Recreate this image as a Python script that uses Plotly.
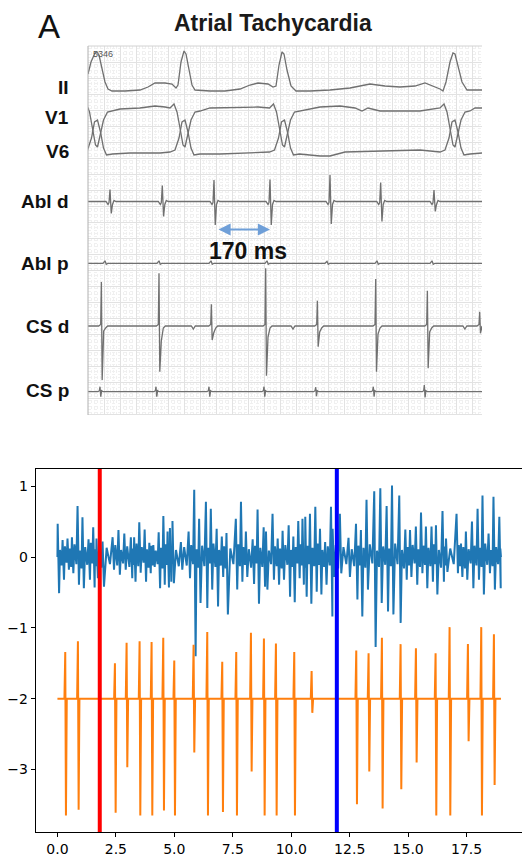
import plotly.graph_objects as go

W, H = 522, 857

# =====================  Panel A : intracardiac recording  =====================
# time in ms, amplitude in display units (positive = upward deflection)
ii_t = [0, 9.6, 22.4, 28.8, 35.2, 44.8, 54.4, 64, 76.8, 118.4, 166.4, 192, 214.4, 246.4, 268.8, 281.6,
        288, 297.6, 307.2, 313.6, 323.2, 332.8, 342.4, 390.4, 438.4, 486.4, 518.4, 544, 576, 592, 601.6,
        611.2, 620.8, 627.2, 636.8, 649.6, 665.6, 710.4, 774.4, 838.4, 902.4, 950.4, 998.4, 1046.4,
        1078.4, 1104, 1126.4, 1136, 1145.6, 1158.4, 1168, 1174.4, 1184, 1196.8, 1212.8, 1238.4, 1260.8]
ii_v = [16, 28, 37, 38, 35, 22, 8, 1, -1, -1, 0, 3, 7, 7, 6, 2,
        5, 28, 39, 36, 20, 5, 0, -1, -1, 1, 5, 7, 6, 3, 4,
        25, 38, 36, 20, 4, -1, -1, 0, 2, 6, 4, 3, 4,
        7, 4, 1, -1, 8, 28, 37, 36, 24, 8, 0, 0, 0]

qrs_t = [27.2, 307.2, 625.6, 1171.2]
v1_qrs_off = [-44.8, -32, -22.4, -12.8, -3.2, 3.2, 12.8, 22.4, 35.2, 51.2]
v1_qrs_val = [2, 6, -2, -18, -35, -37, -25, -10, -2, -1]
v6_qrs_off = [-44.8, -28.8, -16, -6.4, 3.2, 12.8, 22.4, 32, 51.2]
v6_qrs_val = [1, 3, 15, 31, 33, 21, 5, -2, -1]
v1_base_t = [102.4, 166.4, 214.4, 246.4, 390.4, 486.4, 544, 742.4, 806.4, 854.4, 876.8, 896, 934.4, 1062.4, 1238.4, 1260.8]
v1_base_v = [1, 2, 4, 3, 2, 3, 3, 3, 4, 2, -1, 2, -1, -1, 2, 2]
v6_base_t = [134.4, 230.4, 422.4, 518.4, 742.4, 774.4, 822.4, 934.4, 1062.4, 1260.8]
v6_base_v = [0, 0, -1, 0, -3, -3, 1, 2, 3, 0]

abl_d_t = [70.4, 237.8, 403.2, 582.4, 774.4, 936.6, 1107.2]
abl_d_up = [12, 16, 21.5, 22, 26.5, 19, 11.5]
abl_d_down = [12, 15, 23.5, 23.5, 22.5, 20, 10]

abl_p_t = [54.4, 227.2, 393.6, 572.8, 764.8, 924.8, 1100.8]
abl_p_amp = [2.5, 2.5, 2.5, 2.5, 2, 2.5, 2.5]

cs_d_t = [43.8, 228.2, 395.8, 569.6, 735.0, 921.6, 1087.0, 1254.4]
cs_d_up = [44, 52.7, 21.7, 57.7, 25.3, 47, 35.3, 14.3]
cs_d_down = [54, 45.7, 14, 49.7, 20.7, 45.7, 42.3, 7.3]
cs_d_notch = [5, 15, 7, 11, 6, 8, 6, 4]
cs_d_far_t = [337, 656, 1206]

cs_p_t = [38.4, 217.6, 387.2, 563.2, 728.6, 913.0, 1076.2]
cs_p_up = [5, 5, 5, 5, 4.5, 5, 6.7]
cs_p_down = [5, 5, 5, 5, 4.5, 5, 5.6]

channel_labels = ["II", "V1", "V6", "Abl d", "Abl p", "CS d", "CS p"]

# =====================  Panel B : signals vs time (s)  =====================
orange_t = [0.349, 0.891, 2.474, 2.973, 3.529, 4.042, 4.541, 5.012, 5.838, 6.423, 7.064, 7.663, 8.291, 8.847,
            9.360, 10.144, 10.886, 12.796, 13.323, 13.893, 14.692, 15.348, 16.189, 16.788, 17.572, 18.142, 18.684]
orange_up = [-1.34, -1.19, -1.50, -1.21, -1.19, -1.20, -1.14, -1.46, -1.24, -1.06, -1.48, -1.34, -1.07, -1.15,
             -1.22, -1.34, -1.61, -1.32, -1.36, -1.14, -1.23, -1.29, -1.36, -0.99, -1.23, -0.99, -1.09]
orange_down = [-3.65, -3.57, -3.61, -2.97, -3.65, -3.65, -3.58, -3.65, -2.76, -3.65, -3.60, -3.65, -3.03, -3.65,
               -3.65, -3.65, -2.20, -3.49, -3.03, -3.55, -3.28, -2.90, -3.65, -3.65, -2.60, -3.65, -3.22]
orange_base = -2.0
signal_end = 18.97

blue_t = [0.04, 0.25, 0.46, 0.65, 0.89, 1.10, 1.36, 1.56, 1.70, 1.96,
          2.39, 2.64, 2.89, 3.17, 3.31, 3.53, 3.76, 3.96, 4.13, 4.36,
          4.56, 4.74, 4.84, 4.95, 5.31, 5.64, 5.88, 6.09, 6.38, 6.59,
          6.84, 7.06, 7.26, 7.66, 7.88, 8.09, 8.38, 8.59, 8.85, 8.95,
          9.23, 9.45, 9.66, 9.92, 10.12, 10.33, 10.51, 10.63, 10.83, 11.06,
          11.26, 11.48, 11.73, 11.80, 12.11, 12.48, 12.80, 13.01, 13.25, 13.58,
          13.84, 14.11, 14.34, 14.65, 14.91, 15.11, 15.36, 15.58, 15.79, 16.03,
          16.22, 16.50, 16.65, 17.10, 17.29, 17.50, 17.76, 18.00, 18.21, 18.47,
          18.68, 18.93]
blue_up = [0.47, 0.24, 0.26, 0.28, 0.72, 0.56, 0.25, 0.42, 0.26, 0.22,
           0.28, 0.38, 0.33, 0.28, 0.28, 0.49, 0.39, 0.20, 0.17, 0.35,
           0.58, 0.36, 0.41, 0.51, 0.21, 0.36, 0.95, 0.54, 0.78, 0.68,
           0.40, 0.29, 0.34, 0.54, 0.78, 0.36, 0.25, 0.67, 0.42, 0.36,
           0.61, 0.26, 0.37, 0.45, 0.29, 0.51, 0.54, 0.57, 0.61, 0.71,
           0.40, 0.21, 0.71, 0.40, 0.61, 0.27, 0.47, 0.38, 0.81, 0.93,
           0.97, 0.72, 1.01, 0.87, 0.39, 0.38, 0.43, 0.63, 0.43, 0.43,
           0.45, 0.65, 0.26, 0.61, 0.19, 0.36, 0.50, 0.68, 0.87, 0.33,
           0.85, 0.57]
blue_down = [-0.51, -0.32, -0.18, -0.23, -0.39, -0.44, -0.32, -0.43, -0.30, -0.42,
             -0.18, -0.25, -0.18, -0.30, -0.35, -0.22, -0.35, -0.23, -0.14, -0.44,
             -0.39, -0.43, -0.35, -0.37, -0.18, -0.30, -1.40, -0.65, -0.72, -0.46,
             -0.70, -0.28, -0.81, -0.46, -0.35, -0.28, -0.38, -0.66, -0.42, -0.46,
             -0.32, -0.39, -0.32, -0.56, -0.64, -0.30, -0.39, -0.56, -0.66, -0.49,
             -0.53, -0.39, -0.84, -0.28, -0.23, -0.28, -0.60, -0.84, -0.46, -1.27,
             -0.65, -0.77, -0.81, -0.93, -0.32, -0.28, -0.39, -0.23, -0.44, -0.35,
             -0.53, -0.35, -0.21, -0.23, -0.28, -0.32, -0.44, -0.32, -0.53, -0.23,
             -0.46, -0.44]
blue_ripple = [
    (0.10, -0.12), (0.15, -0.08), (0.12, -0.14), (0.18, -0.10), (0.09, -0.16), (0.14, -0.11), (0.20, -0.09), (0.11, -0.13), (0.16, -0.15), (0.13, -0.10),
    (0.17, -0.12), (0.10, -0.09), (0.15, -0.14), (0.12, -0.11), (0.19, -0.13), (0.14, -0.08), (0.11, -0.15), (0.16, -0.12), (0.09, -0.10), (0.13, -0.16),
    (0.18, -0.11), (0.12, -0.14), (0.15, -0.09), (0.10, -0.13), (0.14, -0.12), (0.17, -0.10), (0.11, -0.15), (0.16, -0.13), (0.13, -0.09), (0.19, -0.14),
    (0.10, -0.12), (0.15, -0.16), (0.12, -0.10), (0.18, -0.13), (0.14, -0.11), (0.11, -0.15), (0.16, -0.09), (0.13, -0.14), (0.20, -0.12), (0.09, -0.10),
    (0.15, -0.13), (0.12, -0.16), (0.17, -0.11), (0.10, -0.14), (0.14, -0.09), (0.18, -0.12), (0.11, -0.15), (0.16, -0.10), (0.13, -0.13), (0.19, -0.11),
    (0.10, -0.14), (0.15, -0.12), (0.12, -0.09), (0.17, -0.16), (0.14, -0.10), (0.11, -0.13), (0.16, -0.12), (0.13, -0.15), (0.18, -0.09), (0.09, -0.14),
    (0.15, -0.11), (0.12, -0.13), (0.19, -0.10), (0.10, -0.16), (0.14, -0.12), (0.17, -0.09), (0.11, -0.14), (0.16, -0.11), (0.13, -0.13), (0.18, -0.10),
    (0.10, -0.15), (0.15, -0.12), (0.12, -0.10), (0.17, -0.13), (0.14, -0.16), (0.11, -0.09), (0.16, -0.12), (0.13, -0.14), (0.19, -0.11), (0.10, -0.13),
    (0.14, -0.10), (0.12, -0.12)]

marker_times = [1.81, 11.95]
marker_colors = ["#ff0000", "#0000ff"]

# ----------------------------------------------------------------------------
def px(x):
    return x / W


def py(y):
    return 1 - y / H


# display baselines of the panel-A channels (vertical layout, in panel units)
base = {"II": 90, "V1": 110, "V6": 153, "Abl d": 201.5, "Abl p": 263.3, "CS d": 326, "CS p": 391.7}
label_y = {"II": 87.5, "V1": 117.5, "V6": 151, "Abl d": 201, "Abl p": 263.5, "CS d": 326.5, "CS p": 390.5}


def merge(points):
    points.sort(key=lambda p: p[0])
    return [p[0] for p in points], [p[1] for p in points]


def ecg_trace(t, v, b):
    return go.Scatter(x=t, y=[b - a for a in v], mode="lines", xaxis="x2", yaxis="y2",
                      line=dict(color="#707070", width=1.3), hoverinfo="skip", showlegend=False)


fig = go.Figure()

# Lead II
fig.add_trace(ecg_trace(ii_t, ii_v, base["II"]))

# V1 / V6
pts = [(c + o, v) for c in qrs_t for o, v in zip(v1_qrs_off, v1_qrs_val)] + list(zip(v1_base_t, v1_base_v))
t, v = merge(pts)
fig.add_trace(ecg_trace(t, v, base["V1"]))
pts = [(c + o, v) for c in qrs_t for o, v in zip(v6_qrs_off, v6_qrs_val)] + list(zip(v6_base_t, v6_base_v))
t, v = merge(pts)
fig.add_trace(ecg_trace(t, v, base["V6"]))

# Abl d
pts = [(0, 0), (1260.8, 0)]
for c, u, d in zip(abl_d_t, abl_d_up, abl_d_down):
    pts += [(c - 12.8, 0), (c - 6.4, -3), (c - 3.2, -1), (c, u), (c + 4, -d), (c + 8, -3), (c + 12.8, 1), (c + 19.2, 0)]
t, v = merge(pts)
fig.add_trace(ecg_trace(t, v, base["Abl d"]))

# Abl p
pts = [(0, 0), (1260.8, 0)]
for c, a in zip(abl_p_t, abl_p_amp):
    pts += [(c - 6.4, 0), (c, a), (c + 4, -1), (c + 9.6, 0)]
t, v = merge(pts)
fig.add_trace(ecg_trace(t, v, base["Abl p"]))

# CS d
pts = [(0, 0), (1260.8, 0)]
for c, u, d, n in zip(cs_d_t, cs_d_up, cs_d_down, cs_d_notch):
    pts += [(c - 9.6, 0), (c - 3.2, 1.5), (c - 1, u), (c + 1.5, -d), (c + 6.4, -n), (c + 12.8, -2), (c + 19.2, 0)]
for c in cs_d_far_t:
    pts += [(c - 6.4, 0), (c, -3), (c + 6.4, 0)]
t, v = merge(pts)
fig.add_trace(ecg_trace(t, v, base["CS d"]))

# CS p
pts = [(0, 0), (1260.8, 0)]
for c, u, d in zip(cs_p_t, cs_p_up, cs_p_down):
    pts += [(c - 6.4, 0), (c - 2, 1), (c, u), (c + 2.5, -d), (c + 5, 1), (c + 9.6, 0)]
t, v = merge(pts)
fig.add_trace(ecg_trace(t, v, base["CS p"]))

# ---------------- Panel B ----------------
bx, by = [0.0], [0.0]
for i, (tt, u, d) in enumerate(zip(blue_t, blue_up, blue_down)):
    nxt = blue_t[i + 1] if i + 1 < len(blue_t) else signal_end
    gap = nxt - tt
    r1, r2 = blue_ripple[i]
    bx += [tt - 0.03, tt + 0.03, tt + gap / 3, tt + 2 * gap / 3]
    by += [u, d, r1, r2]
bx.append(signal_end)
by.append(0.0)
fig.add_trace(go.Scatter(x=bx, y=by, mode="lines", line=dict(color="#1f77b4", width=2),
                         xaxis="x", yaxis="y", hoverinfo="skip", showlegend=False))

ox, oy = [0.0], [orange_base]
for tt, u, d in zip(orange_t, orange_up, orange_down):
    ox += [tt - 0.05, tt - 0.015, tt + 0.015, tt + 0.05]
    oy += [orange_base, u, d, orange_base]
ox.append(signal_end)
oy.append(orange_base)
fig.add_trace(go.Scatter(x=ox, y=oy, mode="lines", line=dict(color="#ff7f0e", width=2),
                         xaxis="x", yaxis="y", hoverinfo="skip", showlegend=False))

shapes = []
for mt, mc in zip(marker_times, marker_colors):
    shapes.append(dict(type="line", xref="x", yref="y domain", x0=mt, x1=mt, y0=0, y1=1,
                       line=dict(color=mc, width=4), layer="above"))
# panel A frame
shapes.append(dict(type="line", xref="paper", yref="paper", x0=px(88), x1=px(482), y0=py(46), y1=py(46),
                   line=dict(color="#d2d2d2", width=1)))
shapes.append(dict(type="line", xref="paper", yref="paper", x0=px(88), x1=px(88), y0=py(46), y1=py(415),
                   line=dict(color="#b0b0b0", width=1)))


def note(text, x, y, size, color="#111111", xanchor="center", bold=False):
    return dict(text=("<b>%s</b>" % text) if bold else text, x=px(x), y=py(y), xref="paper", yref="paper",
                xanchor=xanchor, yanchor="middle", showarrow=False,
                font=dict(family="Liberation Sans", size=size, color=color))


annotations = [
    note("A", 48.5, 26, 33),
    note("Atrial Tachycardia", 272.5, 22.5, 23, color="#1a1a1a", bold=True),
    note("5346", 91, 54, 9, color="#555555", xanchor="left"),
    note("170 ms", 248, 250.5, 23, bold=True),
    dict(text="", x=582.4, y=229.5, ax=412.8, ay=229.5, xref="x2", yref="y2", axref="x2", ayref="y2",
         showarrow=True, arrowhead=2, arrowside="end+start", arrowsize=1.1, arrowwidth=2.2,
         arrowcolor="#6f9fd8"),
]
for lab in channel_labels:
    annotations.append(note(lab, 71, label_y[lab], 19, xanchor="right", bold=True))

tickfont = dict(family="DejaVu Sans", size=14, color="#000000")
fig.update_layout(
    width=W, height=H, autosize=False,
    margin=dict(l=0, r=0, t=0, b=0),
    paper_bgcolor="white", plot_bgcolor="white",
    hovermode=False,
    xaxis=dict(domain=[px(35.7), 1.0], range=[-0.93, 19.87], anchor="y",
               tickmode="linear", tick0=0, dtick=2.5, tickformat=".1f",
               showline=True, linecolor="black", linewidth=1, mirror=True,
               ticks="outside", ticklen=4, tickwidth=1, tickcolor="black",
               showgrid=False, zeroline=False, tickfont=tickfont),
    yaxis=dict(domain=[25 / H, 388 / H], range=[-3.883, 1.243], anchor="x",
               tickmode="linear", tick0=0, dtick=1,
               showline=True, linecolor="black", linewidth=1, mirror=False,
               ticks="outside", ticklen=4, tickwidth=1, tickcolor="black",
               showgrid=False, zeroline=False, tickfont=tickfont),
    xaxis2=dict(domain=[px(88), px(482)], range=[0, 1260.8], anchor="y2",
                showticklabels=False, ticks="", zeroline=False, showline=False,
                showgrid=True, gridcolor="#e2e2e2", gridwidth=1, tickmode="linear", tick0=0, dtick=51.2,
                minor=dict(tickmode="linear", dtick=10.24, showgrid=True, gridcolor="#f0f0f0",
                           griddash="dot", gridwidth=1)),
    yaxis2=dict(domain=[1 - 415 / H, 1 - 46 / H], range=[415, 46], anchor="x2",
                showticklabels=False, ticks="", zeroline=False, showline=False,
                showgrid=True, gridcolor="#e2e2e2", gridwidth=1, tickmode="linear", tick0=46, dtick=16,
                minor=dict(tickmode="linear", dtick=3.2, showgrid=True, gridcolor="#f0f0f0",
                           griddash="dot", gridwidth=1)),
    shapes=shapes,
    annotations=annotations,
)

fig.write_html("out.html", config={"displayModeBar": False, "staticPlot": True},
               post_script="document.body.style.margin='0';document.body.style.overflow='hidden';")
